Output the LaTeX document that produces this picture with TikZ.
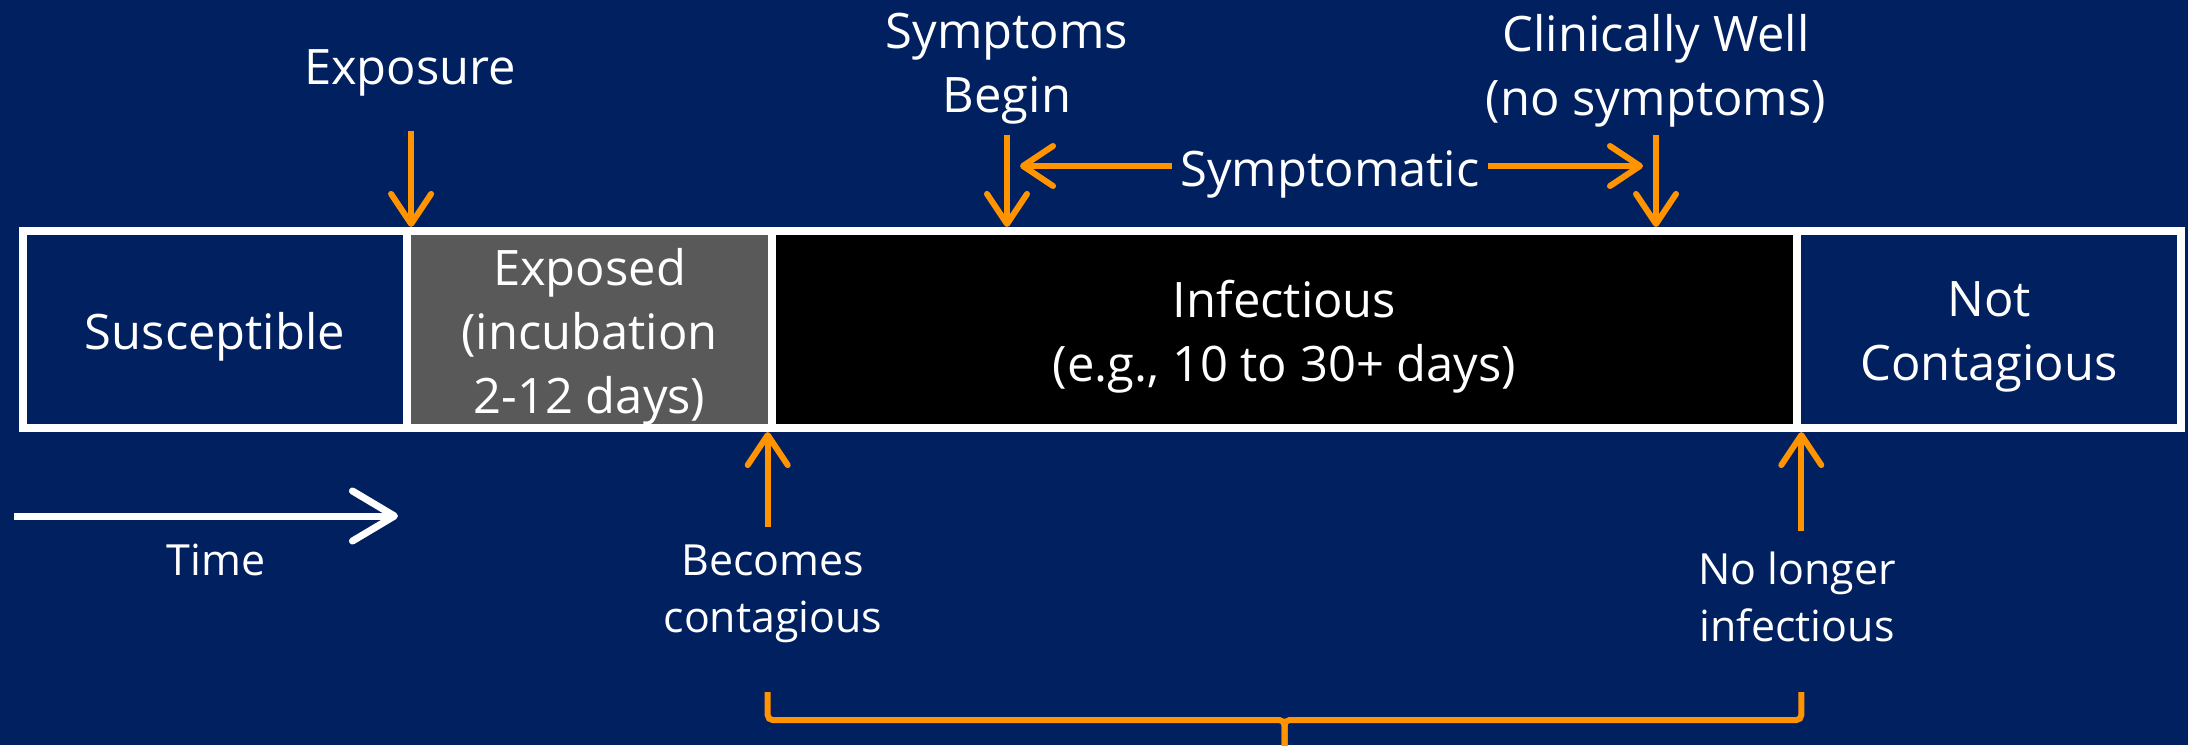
\documentclass[tikz,border=0pt]{standalone}
\usepackage{fontspec}
\setmainfont{Open Sans}
\usetikzlibrary{arrows.meta,calc}
\definecolor{bg}{RGB}{0,32,96}
\definecolor{org}{RGB}{255,148,0}
\definecolor{gry}{RGB}{89,89,89}
\newcommand\mainfnt{\fontsize{13.9pt}{18.2pt}\selectfont}
\newcommand\smallfnt{\fontsize{12.2pt}{16.2pt}\selectfont}
\begin{document}
\begin{tikzpicture}[x=0.01cm,y=-0.01cm,
  box/.style={draw=white,line width=0.08cm,inner sep=0,minimum height=1.97cm},
  lbl/.style={text=white,align=center,font=\mainfnt,inner sep=0},
  boxtext/.style={lbl,yshift=-0.07cm},
  slbl/.style={text=white,align=center,font=\smallfnt,inner sep=0},
  oarrow/.style={draw=org,line width=0.06cm,-{Straight Barb[length=0.3cm,width=0.4cm,round]}},
  warrow/.style={draw=white,line width=0.07cm,-{Straight Barb[length=0.42cm,width=0.5cm,round]}},
  brace/.style={draw=org,line width=0.06cm,rounded corners=0.05cm},
]
\fill[bg] (0,0) rectangle (2188,745);
\useasboundingbox (0,0) rectangle (2188,745);

% boxes
\node[box,fill=bg,minimum width=3.84cm,label={[boxtext]center:Susceptible}] (sus) at (215,329.5) {};
\node[box,fill=gry,minimum width=3.65cm,label={[boxtext]center:{Exposed\\(incubation\\2-12 days)}}] (exp) at (589.5,329.5) {};
\node[box,fill=black,minimum width=10.25cm,label={[boxtext]center:{Infectious\\(e.g., 10 to 30+ days)}}] (inf) at (1284.5,329.5) {};
\node[box,fill=bg,minimum width=3.84cm,label={[boxtext]center:{Not\\Contagious}}] (nc) at (1989,329.5) {};

% top labels
\node[lbl] (exposure) at (410,73) {Exposure};
\node[lbl] (symb) at (1007,69) {Symptoms\\Begin};
\node[lbl] (clin) at (1656,71) {Clinically Well\\(no symptoms)};
\node[lbl,inner xsep=0.08cm] (sympt) at (1330,174) {Symptomatic};

\coordinate (topline) at (0,135);
\coordinate (sL) at (1020,0);
\coordinate (sR) at (1643,0);

\draw[oarrow] ($(sus.north east)+(0,-96)$) -- (sus.north east);
\draw[oarrow] (symb.south |- topline) -- (symb.south |- inf.north);
\draw[oarrow] (clin.south |- topline) -- (clin.south |- inf.north);
\draw[oarrow] (sympt.west |- 0,166) -- (sL |- 0,166);
\draw[oarrow] (sympt.east |- 0,166) -- (sR |- 0,166);

% bottom labels
\node[slbl] (becomes) at (773,594) {Becomes\\contagious};
\node[slbl] (nolonger) at (1797,597) {No longer\\infectious};
\draw[oarrow] ($(inf.south west)+(0,95)$) -- (inf.south west);
\draw[oarrow] ($(inf.south east)+(0,99)$) -- (inf.south east);

% time
\coordinate (t0) at (14,516);
\coordinate (t1) at (398,516);
\draw[warrow] (t0) -- (t1);
\node[slbl] (time) at (216,560) {Time};

% brace
\draw[brace] ($(inf.south west)+(0,260)$) -- ++(0,28) -| ($(inf.south)+(0,340)$);
\draw[brace] ($(inf.south east)+(0,260)$) -- ++(0,28) -| ($(inf.south)+(0,340)$);
\end{tikzpicture}
\end{document}
